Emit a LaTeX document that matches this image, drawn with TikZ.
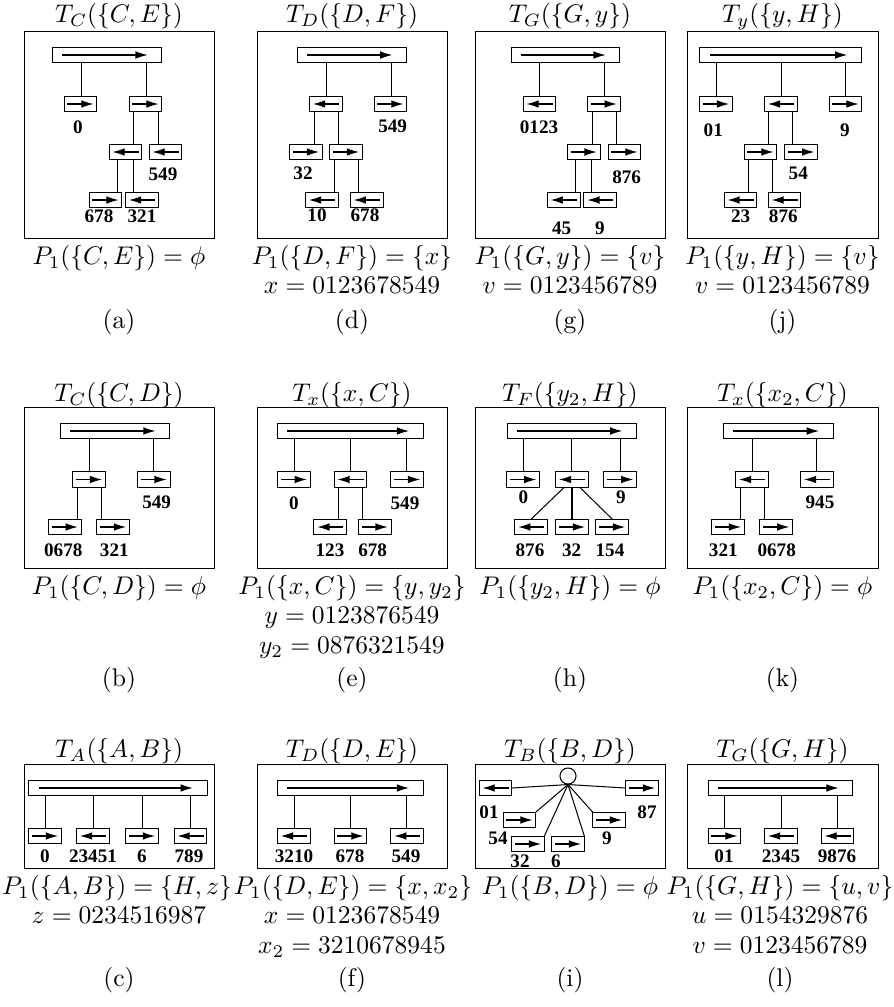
\documentclass[tikz,border=0pt]{standalone}
\usepackage{fontspec}
\newfontfamily\numfont{Liberation Serif}
\usetikzlibrary{arrows.meta}
\tikzset{
  ln/.style={line width=0.4pt},
  bx/.style={draw, line width=0.4pt, minimum width=12.8pt, minimum height=6.2pt, inner sep=0pt, outer sep=0pt},
  arr/.style={draw, line width=0.45pt, -{Latex[length=4.8pt,width=3pt]}},
  rb/.style={bx, append after command={([xshift=1.3pt]\tikzlastnode.west) edge[arr] ([xshift=-1.3pt]\tikzlastnode.east)}},
  lb/.style={bx, append after command={([xshift=-1.3pt]\tikzlastnode.east) edge[arr] ([xshift=1.3pt]\tikzlastnode.west)}},
  topbar/.style={bx, minimum width=#1, append after command={([xshift=3.8pt]\tikzlastnode.west) edge[arr] ([xshift=-5.6pt]\tikzlastnode.east)}},
  frm/.style={draw, line width=0.36pt},
  num/.style={font=\numfont\bfseries\fontsize{7.5}{9}\selectfont, inner sep=0pt},
  txt/.style={inner sep=0pt, text height=7.5pt, text depth=2.5pt},
  circ/.style={draw, circle, minimum size=6.3pt, inner sep=0pt, line width=0.4pt}
}
\newcommand\stm[3]{\draw[ln] (#1.south -| #3,0) -- (#2.north -| #3,0);}
\begin{document}
\begin{tikzpicture}[x=0.392pt,y=-0.392pt]
\useasboundingbox (0,0) rectangle (893,1007);
% ================= ROW 1 =================
% (a)
\node[txt] (ta) at (119,16) {$T_C(\{C,E\})$};
\draw[frm] (24.5,31.5) rectangle (214.5,238.5);
\node[topbar=43.1pt] (a0) at (107,55) {};
\node[rb] (a1) at (80.5,104) {};
\node[rb] (a2) at (145.5,104) {};
\node[lb] (a3) at (125.5,152) {};
\node[lb] (a4) at (165.5,152) {};
\node[rb] (a5) at (105.5,200) {};
\node[lb] (a6) at (142,200) {};
\stm{a0}{a1}{81.5} \stm{a0}{a2}{146.5} \stm{a2}{a3}{133.5} \stm{a2}{a4}{158.5} \stm{a3}{a5}{117.5} \stm{a3}{a6}{133.5}
\node[num] (na1) at (78,127) {0};
\node[num] (na4) at (163,174) {549};
\node[num] (na5) at (99,216) {678};
\node[num] (na6) at (142,216) {321};
\node[txt] (pa) at (119,258) {$P_1(\{C,E\})=\phi$};
\node[txt] (ca) at (119,322) {(a)};
% (d)
\node[txt] (td) at (352,16) {$T_D(\{D,F\})$};
\draw[frm] (257.5,31.5) rectangle (447.5,238.5);
\node[topbar=42.7pt] (d0) at (352.2,55) {};
\node[lb] (d1) at (326,104) {};
\node[rb] (d2) at (390.5,104) {};
\node[rb] (d3) at (306,152) {};
\node[rb] (d4) at (346,152) {};
\node[lb] (d5) at (322,200) {};
\node[lb] (d6) at (366.7,200) {};
\stm{d0}{d1}{326.5} \stm{d0}{d2}{391.5} \stm{d1}{d3}{314.5} \stm{d1}{d4}{338.5} \stm{d4}{d5}{334.5} \stm{d4}{d6}{358.5}
\node[num] (nd2) at (392.7,126) {549};
\node[num] (nd3) at (303,173) {32};
\node[num] (nd5) at (317,215) {10};
\node[num] (nd6) at (365,215) {678};
\node[txt] (pd) at (352,258) {$P_1(\{D,F\})=\{x\}$};
\node[txt] (xd) at (352,287.5) {$x=0123678549$};
\node[txt] (cd) at (352,322) {(d)};
% (g)
\node[txt] (tg) at (570,16) {$T_G(\{G,y\})$};
\draw[frm] (475.5,31.5) rectangle (665.5,238.5);
\node[topbar=42.7pt] (g0) at (565.5,55) {};
\node[lb] (g1) at (539.5,104) {};
\node[rb] (g2) at (603.8,104) {};
\node[rb] (g3) at (583.7,152) {};
\node[rb] (g4) at (624.5,152) {};
\node[lb] (g5) at (563.7,200) {};
\node[lb] (g6) at (600.3,200) {};
\stm{g0}{g1}{539.5} \stm{g0}{g2}{604.5} \stm{g2}{g3}{592.5} \stm{g2}{g4}{616.5} \stm{g3}{g5}{575.5} \stm{g3}{g6}{591.5}
\node[num] (ng1) at (539,127) {0123};
\node[num] (ng4) at (626.7,177) {876};
\node[num] (ng5) at (561.7,228) {45};
\node[num] (ng6) at (600,228) {9};
\node[txt] (pg) at (570,258) {$P_1(\{G,y\})=\{v\}$};
\node[txt] (vg) at (570,287.5) {$v=0123456789$};
\node[txt] (cg) at (570,322) {(g)};
% (j)
\node[txt] (tj) at (782.5,16) {$T_y(\{y,H\})$};
\draw[frm] (687.5,31.5) rectangle (878.5,238.5);
\node[topbar=63.4pt] (j0) at (780.8,55) {};
\node[rb] (j1) at (716,104) {};
\node[lb] (j2) at (781,104) {};
\node[rb] (j3) at (845.5,104) {};
\node[rb] (j4) at (760.5,152) {};
\node[rb] (j5) at (801.3,152) {};
\node[lb] (j6) at (740.5,200) {};
\node[lb] (j7) at (784.5,200) {};
\stm{j0}{j1}{716.5} \stm{j0}{j2}{781.5} \stm{j0}{j3}{845.5} \stm{j2}{j4}{768.5} \stm{j2}{j5}{792.5} \stm{j4}{j6}{748.5} \stm{j4}{j7}{772.5}
\node[num] (nj1) at (713.3,130) {01};
\node[num] (nj3) at (845,130) {9};
\node[num] (nj5) at (798.3,173) {54};
\node[num] (nj6) at (740.7,216) {23};
\node[num] (nj7) at (783.3,216) {876};
\node[txt] (pj) at (782.5,258) {$P_1(\{y,H\})=\{v\}$};
\node[txt] (vj) at (782.5,287.5) {$v=0123456789$};
\node[txt] (cj) at (782.5,322) {(j)};
% ================= ROW 2 =================
% (b)
\node[txt] (tb) at (119,395) {$T_C(\{C,D\})$};
\draw[frm] (24.5,407.5) rectangle (214.5,568.5);
\node[topbar=42.8pt] (b0) at (115.3,431) {};
\node[rb] (b1) at (89,479.5) {};
\node[rb] (b2) at (153.7,479.5) {};
\node[rb] (b3) at (64.8,527) {};
\node[rb] (b4) at (113,527) {};
\stm{b0}{b1}{89.5} \stm{b0}{b2}{153.5} \stm{b1}{b3}{77.5} \stm{b1}{b4}{101.5}
\node[num] (nb2) at (156.7,502) {549};
\node[num] (nb3) at (63.3,550) {0678};
\node[num] (nb4) at (114.3,550) {321};
\node[txt] (pb) at (119,588) {$P_1(\{C,D\})=\phi$};
\node[txt] (cb) at (119,680) {(b)};
% (e)
\node[txt] (te) at (352,395) {$T_x(\{x,C\})$};
\draw[frm] (257.5,407.5) rectangle (447.5,568.5);
\node[topbar=57.1pt] (e0) at (350.5,431) {};
\node[rb] (e1) at (293.8,479.5) {};
\node[lb] (e2) at (350.5,479.5) {};
\node[rb] (e3) at (407.2,479.5) {};
\node[lb] (e4) at (330.3,527) {};
\node[rb] (e5) at (374.7,527) {};
\stm{e0}{e1}{294.5} \stm{e0}{e2}{350.5} \stm{e0}{e3}{406.5} \stm{e2}{e4}{338.5} \stm{e2}{e5}{362.5}
\node[num] (ne1) at (294,503) {0};
\node[num] (ne3) at (405,503) {549};
\node[num] (ne4) at (330,550) {123};
\node[num] (ne5) at (372.7,550) {678};
\node[txt] (pe) at (352,588) {$P_1(\{x,C\})=\{y,y_2\}$};
\node[txt] (ye) at (352,617.5) {$y=0123876549$};
\node[txt] (y2e) at (352,647) {$y_2=0876321549$};
\node[txt] (ce) at (352,680) {(e)};
% (h)
\node[txt] (th) at (570,395) {$T_F(\{y_2,H\})$};
\draw[frm] (475.5,407.5) rectangle (665.5,568.5);
\node[topbar=50.7pt] (h0) at (572,431) {};
\node[rb] (h1) at (523.3,479.5) {};
\node[lb] (h2) at (572,479.5) {};
\node[rb] (h3) at (620.3,479.5) {};
\node[lb] (h4) at (531.2,527) {};
\node[rb] (h5) at (572,527) {};
\node[rb] (h6) at (612.2,527) {};
\stm{h0}{h1}{523.5} \stm{h0}{h2}{571.5} \stm{h0}{h3}{620.5}
\draw[ln] ([xshift=-3.1pt]h2.south) -- (h4.north);
\draw[ln] (h2.south) -- (h5.north);
\draw[ln] ([xshift=3.1pt]h2.south) -- (h6.north);
\node[num] (nh1) at (523.3,497) {0};
\node[num] (nh3) at (621,497) {9};
\node[num] (nh4) at (530,550) {876};
\node[num] (nh5) at (571.7,550) {32};
\node[num] (nh6) at (610,550) {154};
\node[txt] (ph) at (570,588) {$P_1(\{y_2,H\})=\phi$};
\node[txt] (ch) at (570,680) {(h)};
% (k)
\node[txt] (tk) at (782.5,395) {$T_x(\{x_2,C\})$};
\draw[frm] (687.5,407.5) rectangle (878.5,568.5);
\node[topbar=43.1pt] (k0) at (778.3,431) {};
\node[lb] (k1) at (752,479.5) {};
\node[lb] (k2) at (817,479.5) {};
\node[rb] (k3) at (728,527) {};
\node[rb] (k4) at (776.3,527) {};
\stm{k0}{k1}{752.5} \stm{k0}{k2}{816.5} \stm{k1}{k3}{740.5} \stm{k1}{k4}{764.5}
\node[num] (nk2) at (820,502) {945};
\node[num] (nk3) at (723.3,550) {321};
\node[num] (nk4) at (776.7,550) {0678};
\node[txt] (pk) at (782.5,588) {$P_1(\{x_2,C\})=\phi$};
\node[txt] (ck) at (782.5,680) {(k)};
% ================= ROW 3 =================
% (c)
\node[txt] (tc) at (119,751) {$T_A(\{A,B\})$};
\draw[frm] (24.5,764.5) rectangle (214.5,868.5);
\node[topbar=69.8pt] (c0) at (118,788) {};
\node[rb] (c1) at (45,836) {};
\node[lb] (c2) at (93,836) {};
\node[rb] (c3) at (142,836) {};
\node[lb] (c4) at (190.5,836) {};
\stm{c0}{c1}{45.5} \stm{c0}{c2}{93.5} \stm{c0}{c3}{142.5} \stm{c0}{c4}{190.5}
\node[num] (nc1) at (45,856) {0};
\node[num] (nc2) at (93,856) {23451};
\node[num] (nc3) at (142,856) {6};
\node[num] (nc4) at (189,856) {789};
\node[txt] (pc) at (117,888) {$P_1(\{A,B\})=\{H,z\}$};
\node[txt] (zc) at (119,917.5) {$z=0234516987$};
\node[txt] (cc) at (119,980) {(c)};
% (f)
\node[txt] (tf) at (352,751) {$T_D(\{D,E\})$};
\draw[frm] (257.5,764.5) rectangle (447.5,868.5);
\node[topbar=57.1pt] (f0) at (350.5,788) {};
\node[lb] (f1) at (293.8,836) {};
\node[rb] (f2) at (350.5,836) {};
\node[lb] (f3) at (407.2,836) {};
\stm{f0}{f1}{294.5} \stm{f0}{f2}{350.5} \stm{f0}{f3}{406.5}
\node[num] (nf1) at (294,856) {3210};
\node[num] (nf2) at (350,856) {678};
\node[num] (nf3) at (406,856) {549};
\node[txt] (pf) at (353,888) {$P_1(\{D,E\})=\{x,x_2\}$};
\node[txt] (xf) at (352,917.5) {$x=0123678549$};
\node[txt] (x2f) at (352,947) {$x_2=3210678945$};
\node[txt] (cf) at (352,980) {(f)};
% (i)
\node[txt] (ti) at (570,751) {$T_B(\{B,D\})$};
\draw[frm] (475.5,764.5) rectangle (665.5,868.5);
\node[circ] (ic) at (568,776) {};
\node[lb] (i1) at (495.5,788) {};
\node[rb] (i2) at (642,788) {};
\node[rb] (i3) at (519.5,820) {};
\node[rb] (i4) at (609,820) {};
\node[rb] (i5) at (528,844) {};
\node[rb] (i6) at (568,844) {};
\draw[ln] (ic.south) -- (i1.east);
\draw[ln] (ic.south) -- (i2.west);
\draw[ln] (ic.south) -- (i3.north east);
\draw[ln] (ic.south) -- (i4.north west);
\draw[ln] (ic.south) -- (i5.north east);
\draw[ln] (ic.south) -- (i6.north east);
\node[num] (ni1) at (489,812) {01};
\node[num] (ni2) at (647,812) {87};
\node[num] (ni3) at (498,838) {54};
\node[num] (ni4) at (607,838) {9};
\node[num] (ni5) at (520,861) {32};
\node[num] (ni6) at (556,861) {6};
\node[txt] (pi) at (570,888) {$P_1(\{B,D\})=\phi$};
\node[txt] (ci) at (570,980) {(i)};
% (l)
\node[txt] (tl) at (782.5,751) {$T_G(\{G,H\})$};
\draw[frm] (687.5,764.5) rectangle (878.5,868.5);
\node[topbar=56.8pt] (l0) at (780.5,788) {};
\node[rb] (l1) at (724.5,836) {};
\node[lb] (l2) at (781,836) {};
\node[lb] (l3) at (837.5,836) {};
\stm{l0}{l1}{724.5} \stm{l0}{l2}{781.5} \stm{l0}{l3}{837.5}
\node[num] (nl1) at (724,856) {01};
\node[num] (nl2) at (781,856) {2345};
\node[num] (nl3) at (837,856) {9876};
\node[txt] (pl) at (780,888) {$P_1(\{G,H\})=\{u,v\}$};
\node[txt] (ul) at (780,917.5) {$u=0154329876$};
\node[txt] (vl) at (780,947) {$v=0123456789$};
\node[txt] (cl) at (780,980) {(l)};
\end{tikzpicture}
\end{document}
